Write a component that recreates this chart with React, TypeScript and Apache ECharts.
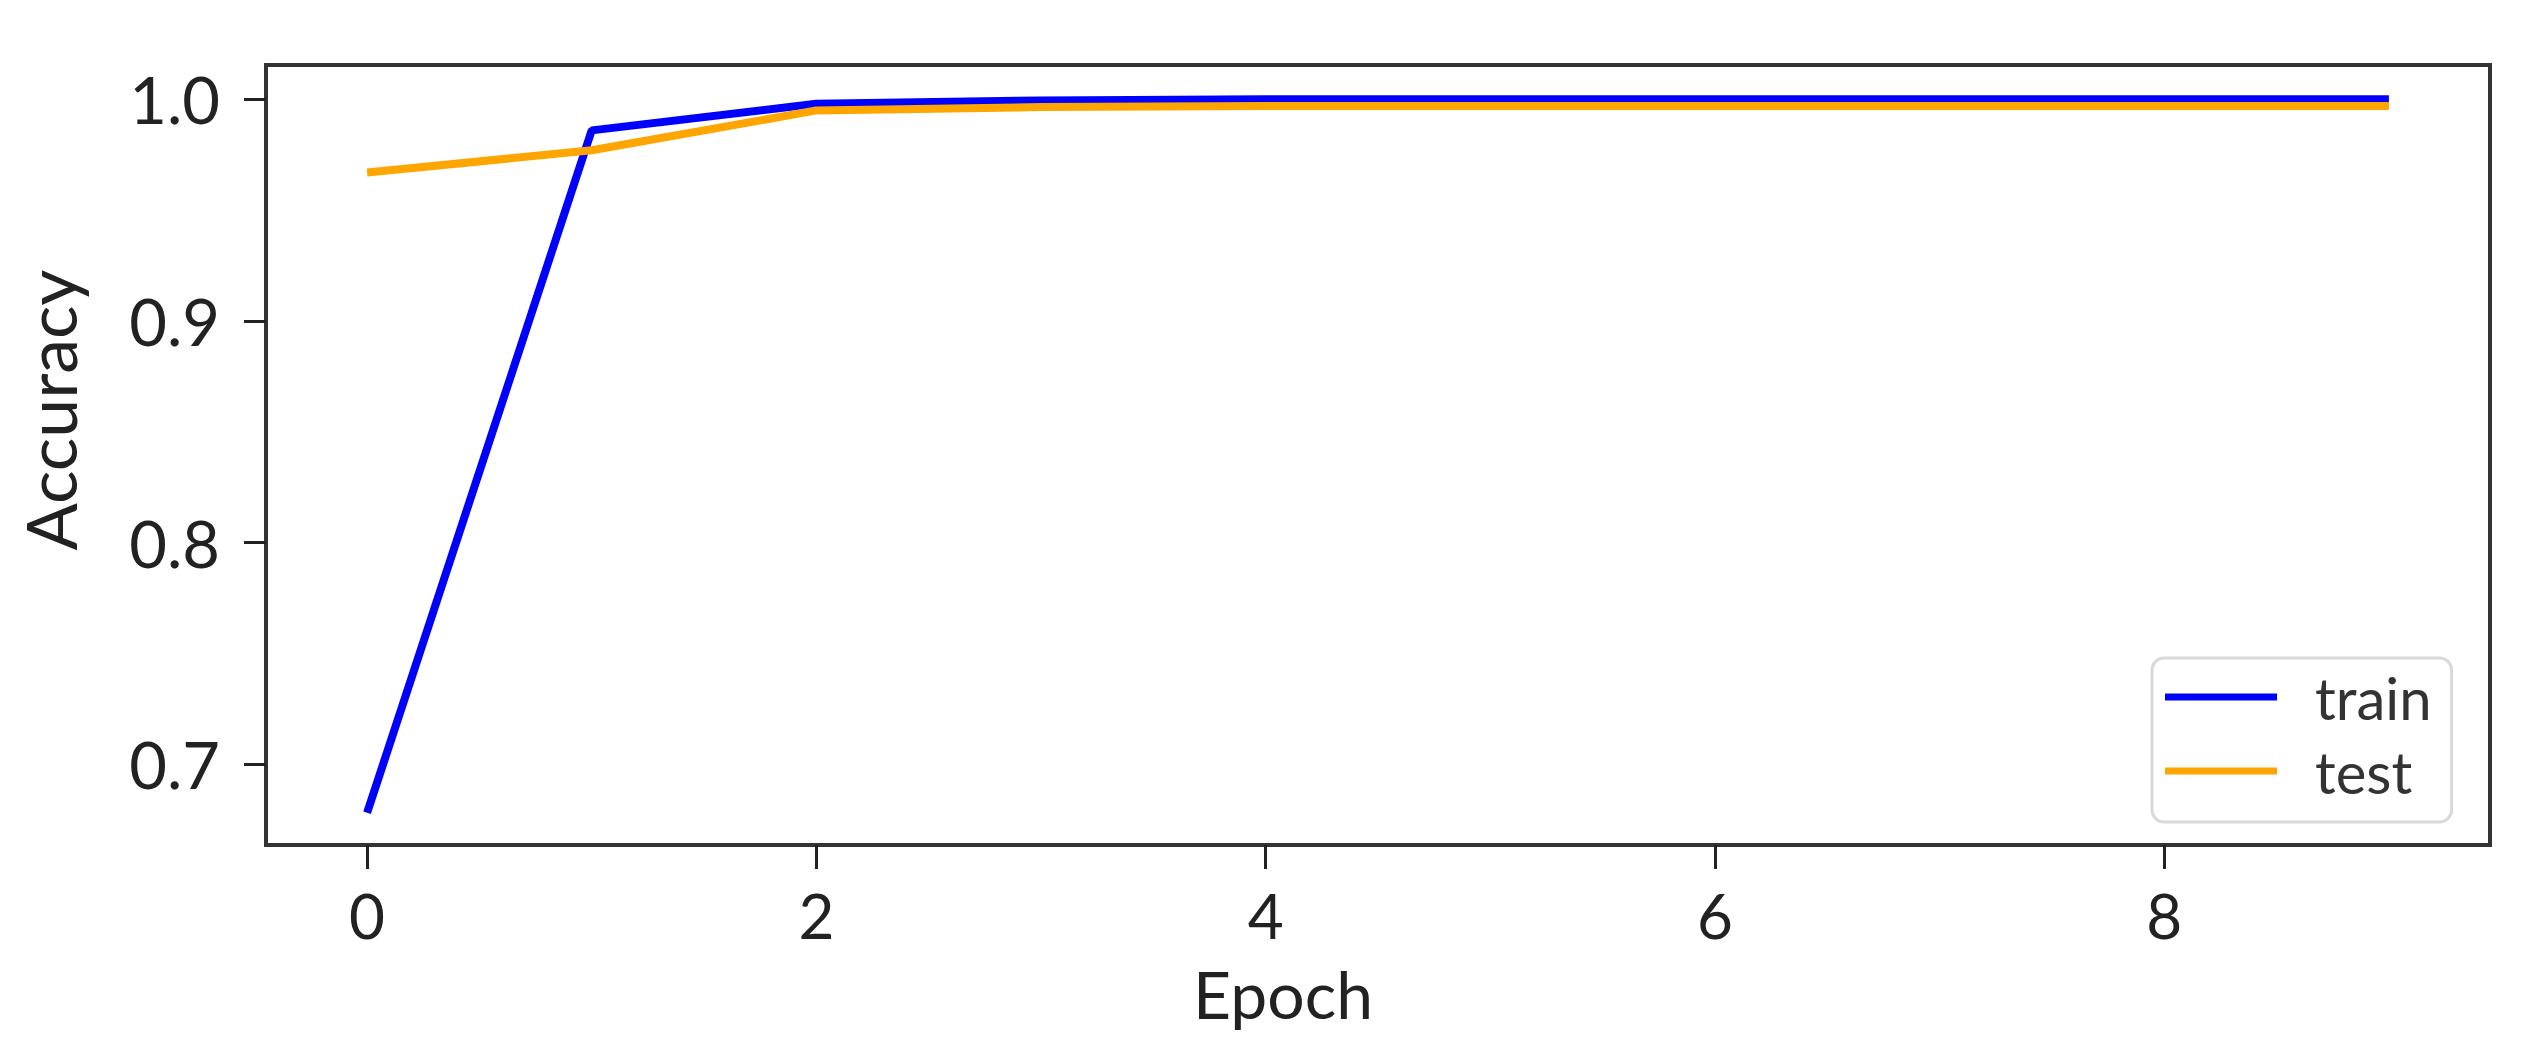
import React, { useEffect, useRef } from "react";
import * as echarts from "echarts";

const epochs = [0, 1, 2, 3, 4, 5, 6, 7, 8, 9];
const trainAcc = [0.678, 0.986, 0.998, 0.9995, 1.0, 1.0, 1.0, 1.0, 1.0, 1.0];
const testAcc = [0.967, 0.977, 0.995, 0.9965, 0.997, 0.997, 0.997, 0.997, 0.997, 0.997];
const xTicks = [0, 2, 4, 6, 8];
const yTicks = [0.7, 0.8, 0.9, 1.0];
const seriesNames = ["train", "test"];

const W = 2526;
const H = 1053;
const FONT = "Lato";

export default function App() {
  const ref = useRef<HTMLDivElement>(null);
  useEffect(() => {
    if (!ref.current) return;
    const chart = echarts.init(ref.current, undefined, { renderer: "svg" });
    const option: any = {
      animation: false,
      backgroundColor: "#ffffff",
      grid: {
        left: 266,
        right: 36,
        top: 65,
        bottom: 208,
        containLabel: false,
        show: true,
        borderColor: "#333333",
        borderWidth: 4,
        backgroundColor: "#ffffff",
      },
      xAxis: {
        type: "value",
        min: -0.45,
        max: 9.45,
        axisLine: { show: true, onZero: false, lineStyle: { color: "#333333", width: 4 } },
        splitLine: { show: false },
        axisTick: {
          show: true,
          length: 24,
          customValues: xTicks,
          lineStyle: { color: "#222222", width: 3 },
        },
        axisLabel: {
          customValues: xTicks,
          margin: 39,
          fontSize: 62,
          lineHeight: 62,
          fontFamily: FONT,
          color: "#222222",
          formatter: (v: number) => String(Math.round(v)),
        },
      },
      yAxis: {
        type: "value",
        min: 0.6635,
        max: 1.0155,
        axisLine: { show: true, onZero: false, lineStyle: { color: "#333333", width: 4 } },
        splitLine: { show: false },
        axisTick: {
          show: true,
          length: 22,
          customValues: yTicks,
          lineStyle: { color: "#222222", width: 3 },
        },
        axisLabel: {
          customValues: yTicks,
          margin: 46,
          fontSize: 65,
          fontFamily: FONT,
          color: "#222222",
          formatter: (v: number) => v.toFixed(1),
        },
      },
      legend: {
        data: seriesNames,
        orient: "vertical",
        left: 2152,
        top: 658,
        padding: [10, 20, 22, 13],
        icon: "rect",
        itemWidth: 112,
        itemHeight: 7,
        itemGap: 16,
        backgroundColor: "#ffffff",
        borderColor: "#d9d9d9",
        borderWidth: 3,
        borderRadius: 12,
        textStyle: {
          fontSize: 58,
          lineHeight: 58,
          fontFamily: FONT,
          color: "#333333",
          padding: [0, 0, 0, 33],
        },
      },
      graphic: [
        {
          type: "text",
          x: 1283,
          y: 993,
          style: {
            text: "Epoch",
            fontSize: 66,
            lineHeight: 56,
            fontFamily: FONT,
            fill: "#222222",
            align: "center",
            verticalAlign: "middle",
            textAlign: "center",
            textVerticalAlign: "middle",
          },
        },
        {
          type: "text",
          x: 50,
          y: 410,
          rotation: Math.PI / 2,
          style: {
            text: "Accuracy",
            fontSize: 70,
            fontFamily: FONT,
            fill: "#222222",
            align: "center",
            verticalAlign: "middle",
            textAlign: "center",
            textVerticalAlign: "middle",
          },
        },
      ],
      series: [
        {
          name: seriesNames[0],
          type: "line",
          symbol: "none",
          data: epochs.map((e, i) => [e, trainAcc[i]]),
          lineStyle: { color: "#0000ff", width: 8 },
          itemStyle: { color: "#0000ff" },
          z: 2,
        },
        {
          name: seriesNames[1],
          type: "line",
          symbol: "none",
          data: epochs.map((e, i) => [e, testAcc[i]]),
          lineStyle: { color: "#ffa500", width: 8 },
          itemStyle: { color: "#ffa500" },
          z: 3,
        },
      ],
    };
    chart.setOption(option);
    return () => chart.dispose();
  }, []);
  return (
    <div
      ref={ref}
      style={{ position: "absolute", left: 0, top: 0, width: W, height: H, background: "#ffffff" }}
    />
  );
}
